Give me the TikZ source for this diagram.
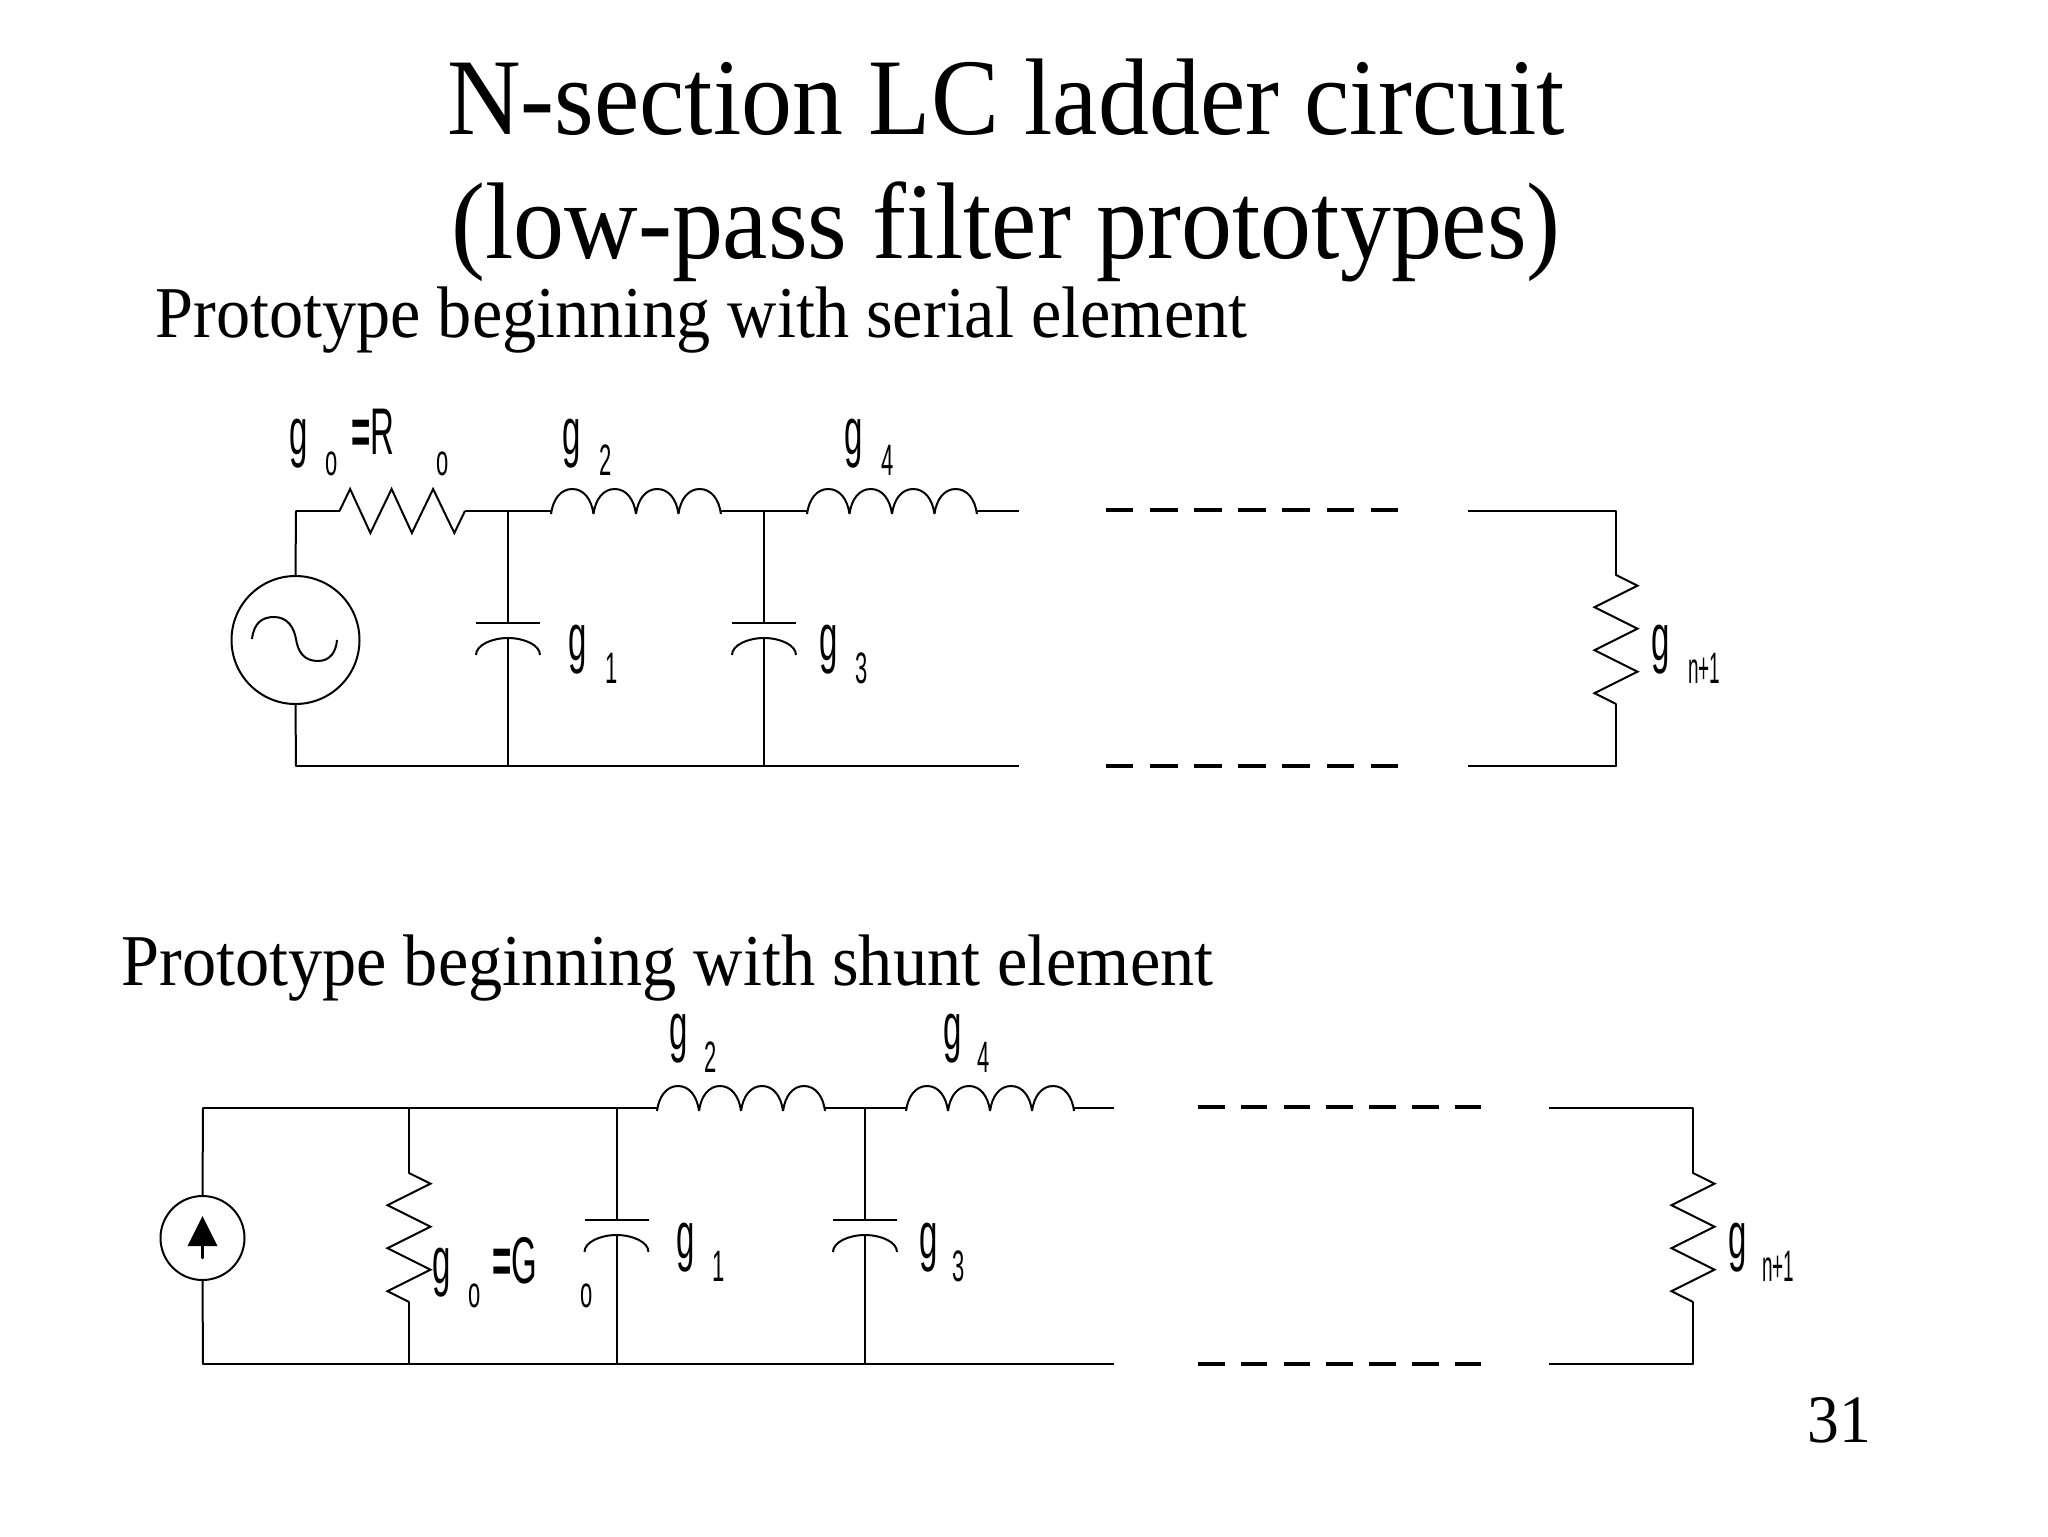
\documentclass[tikz,border=0pt]{standalone}
\usepackage{fontspec}
\setmainfont{Liberation Serif}
\newfontfamily\serifwide[FakeStretch=0.935]{Liberation Serif}
\newfontfamily\narrowsans[FakeStretch=0.5]{Liberation Sans}
\newfontfamily\tightsans[FakeStretch=0.43]{Liberation Sans}
\tikzset{
  wire/.style={line width=1pt,black,line cap=round,line join=round},
  hwire/.style={line width=1.2pt,black,line cap=butt},
  dashtop/.style={line width=2.4pt,black,dash pattern=on 13.7pt off 8.35pt},
  dashlow/.style={line width=2.4pt,black,dash pattern=on 13.3pt off 8.1pt},
  sym/.style={line width=1pt,black,line join=miter},
  gl/.style={inner sep=0pt,anchor=base west,font=\narrowsans\fontsize{33}{33}\selectfont},
  sl/.style={inner sep=0pt,anchor=base west,font=\narrowsans\fontsize{22}{22}\selectfont},
  nl/.style={inner sep=0pt,anchor=base west,font=\tightsans\fontsize{22}{22}\selectfont},
  ttl/.style={inner sep=0pt,anchor=base,font=\serifwide\fontsize{54.5}{54.5}\selectfont},
  subh/.style={inner sep=0pt,anchor=base west,font=\serifwide\fontsize{36.5}{36.5}\selectfont},
  ind/.pic={\draw[sym] \foreach \k in {0,1,2,3} {
      ({\k*43},3) .. controls ({\k*43+2},-12) and ({\k*43+10},-22) .. ({\k*43+21.5},-22)
      .. controls ({\k*43+33},-22) and ({\k*43+41},-12) .. ({\k*43+43},3)};},
  resh/.pic={\draw[sym] (0,0) -- (11,-22) -- (32,22) -- (54,-22) -- (75,22) -- (97,-22) -- (119,22) -- (130,0);},
  resv/.pic={\draw[sym] (0,0) -- (21.5,10.7) -- (-21.5,32.2) -- (21.5,53.7) -- (-21.5,75.2) -- (21.5,96.7) -- (-21.5,118.2) -- (0,128.9);},
  cap/.pic={\draw[hwire] (-32,0) -- (32,0);
    \draw[sym] (-32,32) .. controls (-32,22) and (-16,15) .. (0,15) .. controls (16,15) and (32,22) .. (32,32);},
}
\begin{document}
\begin{tikzpicture}[x=0.5pt,y=-0.5pt]
\useasboundingbox (0,0) rectangle (2048,1536);
\fill[white] (0,0) rectangle (2048,1536);
% titles
\node[ttl] (t1) at (1006,134) {N-section LC ladder circuit};
\node[ttl] (t2) at (1006,258) {(low-pass filter prototypes)};
\node[subh] (s1) at (155,337) {Prototype beginning with serial element};
\node[subh] (s2) at (121,985) {Prototype beginning with shunt element};
\node[inner sep=0pt,anchor=base west,font=\serifwide\fontsize{34}{34}\selectfont] (pg) at (1807,1442) {31};
% ---------- upper circuit ----------
\coordinate (aTL) at (296,511); \coordinate (aBL) at (296,766);
\coordinate (aRa) at (339.5,511); \coordinate (aRb) at (465,511);
\coordinate (aC1) at (508,511); \coordinate (aC1b) at (508,766);
\coordinate (aL1a) at (551,511); \coordinate (aL1b) at (721,511);
\coordinate (aC2) at (764,511); \coordinate (aC2b) at (764,766);
\coordinate (aL2a) at (807,511); \coordinate (aL2b) at (977,511);
\coordinate (aE) at (1019,511); \coordinate (aEb) at (1019,766);
\coordinate (aD) at (1468,511); \coordinate (aDb) at (1468,766);
\coordinate (aTR) at (1616,511); \coordinate (aBR) at (1616,766);
\coordinate (aR2a) at (1616,575); \coordinate (aR2b) at (1616,704);
\coordinate (aP1) at (508,623); \coordinate (aP1c) at (508,638);
\coordinate (aP2) at (764,623); \coordinate (aP2c) at (764,638);
\coordinate (aD1) at (1106,510); \coordinate (aD2) at (1398,510);
\coordinate (aD3) at (1106,766); \coordinate (aD4) at (1398,766);
\node[circle,draw,sym,minimum size=64pt,inner sep=0pt] (aS) at (295.5,640) {};
\draw[sym] (252,639) .. controls (254,622) and (263,617) .. (274,617) .. controls (288,617) and (294,628) .. (296,639)
  .. controls (298,652) and (304,661) .. (318,661) .. controls (330,661) and (336,652) .. (337,640);
\draw[wire] (aTL) -- (aS.north);
\draw[wire] (aS.south) -- (aBL);
\draw[hwire] (aTL) -- (aRa);
\draw[hwire] (aRb) -- (aL1a);
\draw[hwire] (aL1b) -- (aL2a);
\draw[hwire] (aL2b) -- (aE);
\draw[hwire] (aBL) -- (aEb);
\draw[hwire] (aD) -- (aTR);
\draw[hwire] (aDb) -- (aBR);
\draw[wire] (aTR) -- (aR2a);
\draw[wire] (aR2b) -- (aBR);
\draw[wire] (aC1) -- (aP1);
\draw[wire] (aP1c) -- (aC1b);
\draw[wire] (aC2) -- (aP2);
\draw[wire] (aP2c) -- (aC2b);
\draw[dashtop] (aD1) -- (aD2);
\draw[dashtop] (aD3) -- (aD4);
\pic[xscale=0.965] at (aRa) {resh};
\pic[xscale=0.988] at (aL1a) {ind};
\pic[xscale=0.988] at (aL2a) {ind};
\pic at (aR2a) {resv};
\pic at (aP1) {cap};
\pic at (aP2) {cap};
\node[gl] (ag0) at (289,454) {g};
\node[sl] (ag0s) at (325,475) {o};
\node[gl] (aeq) at (351,454) {{\bfseries=}R};
\node[sl] (aRs) at (436,475) {o};
\node[gl] (ag2) at (562,454) {g};
\node[sl] (ag2s) at (599,475) {2};
\node[gl] (ag4) at (844,454) {g};
\node[sl] (ag4s) at (881,475) {4};
\node[gl] (ag1) at (568,660) {g};
\node[sl] (ag1s) at (605,683) {1};
\node[gl] (ag3) at (819,660) {g};
\node[sl] (ag3s) at (855,683) {3};
\node[gl] (agn) at (1651,660) {g};
\node[nl] (agns) at (1688,683) {n+1};
% ---------- lower circuit ----------
\coordinate (bTL) at (203,1108); \coordinate (bBL) at (203,1364);
\coordinate (bR) at (409,1108); \coordinate (bRb) at (409,1364);
\coordinate (bRa) at (409,1173); \coordinate (bRc) at (409,1302);
\coordinate (bC1) at (616.5,1108); \coordinate (bC1b) at (616.5,1364);
\coordinate (bL1a) at (657,1108); \coordinate (bL1b) at (824,1108);
\coordinate (bC2) at (865,1108); \coordinate (bC2b) at (865,1364);
\coordinate (bL2a) at (906,1108); \coordinate (bL2b) at (1073,1108);
\coordinate (bE) at (1114,1108); \coordinate (bEb) at (1114,1364);
\coordinate (bD) at (1549,1108); \coordinate (bDb) at (1549,1364);
\coordinate (bTR) at (1693,1108); \coordinate (bBR) at (1693,1364);
\coordinate (bR2a) at (1693,1173); \coordinate (bR2b) at (1693,1302);
\coordinate (bP1) at (616.5,1220); \coordinate (bP1c) at (616.5,1235);
\coordinate (bP2) at (865,1220); \coordinate (bP2c) at (865,1235);
\coordinate (bD1) at (1198,1107); \coordinate (bD2) at (1481,1107);
\coordinate (bD3) at (1198,1364); \coordinate (bD4) at (1481,1364);
\node[circle,draw,sym,minimum size=42pt,inner sep=0pt] (bS) at (202.5,1238) {};
\coordinate (bAa) at (202.5,1258); \coordinate (bAb) at (202.5,1216);
\draw[wire,line width=1.2pt] (bAa) -- (202.5,1245);
\fill[black] (bAb) -- (217.5,1246) -- (187.5,1246) -- cycle;
\draw[wire] (bTL) -- (bS.north);
\draw[wire] (bS.south) -- (bBL);
\draw[hwire] (bTL) -- (bL1a);
\draw[hwire] (bL1b) -- (bL2a);
\draw[hwire] (bL2b) -- (bE);
\draw[hwire] (bBL) -- (bEb);
\draw[hwire] (bD) -- (bTR);
\draw[hwire] (bDb) -- (bBR);
\draw[wire] (bR) -- (bRa);
\draw[wire] (bRc) -- (bRb);
\draw[wire] (bTR) -- (bR2a);
\draw[wire] (bR2b) -- (bBR);
\draw[wire] (bC1) -- (bP1);
\draw[wire] (bP1c) -- (bC1b);
\draw[wire] (bC2) -- (bP2);
\draw[wire] (bP2c) -- (bC2b);
\draw[dashlow] (bD1) -- (bD2);
\draw[dashlow] (bD3) -- (bD4);
\pic[xscale=0.977] at (bL1a) {ind};
\pic[xscale=0.977] at (bL2a) {ind};
\pic at (bRa) {resv};
\pic at (bR2a) {resv};
\pic at (bP1) {cap};
\pic at (bP2) {cap};
\node[gl] (bg0) at (432,1283) {g};
\node[sl] (bg0s) at (468,1307) {o};
\node[gl] (beq) at (492,1283) {{\bfseries=}G};
\node[sl] (bGs) at (580,1307) {o};
\node[gl] (bg2) at (669,1049) {g};
\node[sl] (bg2s) at (704,1072) {2};
\node[gl] (bg4) at (943,1049) {g};
\node[sl] (bg4s) at (977,1072) {4};
\node[gl] (bg1) at (676,1258) {g};
\node[sl] (bg1s) at (712,1281) {1};
\node[gl] (bg3) at (919,1258) {g};
\node[sl] (bg3s) at (952,1281) {3};
\node[gl] (bgn) at (1728,1258) {g};
\node[nl] (bgns) at (1762,1281) {n+1};
\end{tikzpicture}
\end{document}
